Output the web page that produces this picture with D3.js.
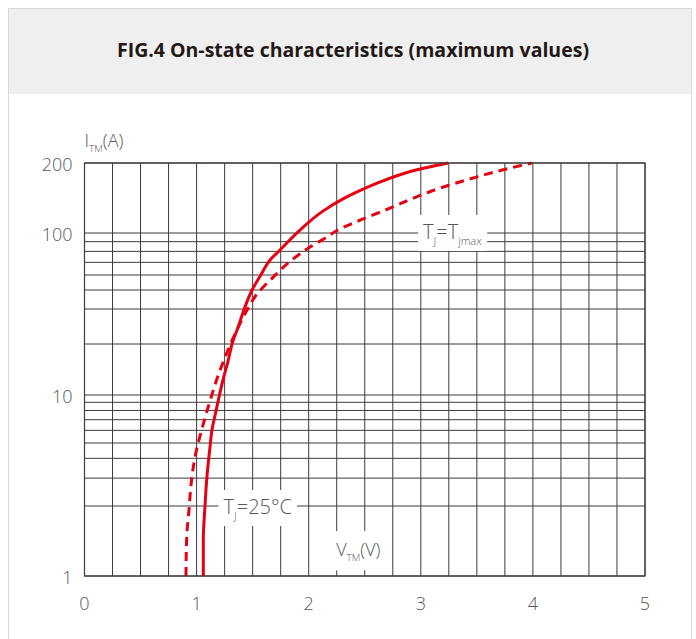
<!DOCTYPE html>
<html>
<head>
<meta charset="utf-8">
<script src="https://cdn.jsdelivr.net/npm/d3@7"></script>
<style>
  body { margin: 0; background: #fff; }
  text { font-family: "Open Sans", "Noto Sans", sans-serif; }
</style>
</head>
<body>
<div id="chart"></div>
<script>
// Chart data
const titleText = "FIG.4 On-state characteristics (maximum values)";

// Tj = 25°C, solid line
const vt25 = [1.06, 1.06, 1.075, 1.09, 1.104, 1.12, 1.137, 1.169, 1.204, 1.235, 1.283, 1.316, 1.372, 1.432, 1.495, 1.581, 1.655, 1.744, 1.922, 2.13, 2.306, 2.431, 2.663, 2.966, 3.245];
const it25 = [1, 1.43, 2, 2.92, 3.74, 4.74, 6.03, 7.71, 10, 13.8, 21.2, 30, 34.6, 41.1, 50, 61.2, 72, 81.3, 103, 124.5, 140.2, 150.3, 167.7, 187.1, 200];

// Tj = Tjmax, dashed line
const vtMax = [0.905, 0.912, 0.935, 0.941, 0.971, 1.006, 1.045, 1.104, 1.137, 1.178, 1.244, 1.302, 1.36, 1.449, 1.53, 1.686, 1.815, 2.012, 2.163, 2.252, 2.427, 2.725, 2.933, 3.171, 3.468, 3.736, 3.99];
const itMax = [1, 1.475, 2, 2.29, 3.54, 4.74, 6.03, 8.44, 10.1, 13.8, 21.2, 30, 33.7, 39.6, 47, 58.7, 69.4, 84.3, 95.2, 102.5, 111.9, 127.9, 141.2, 156, 172.4, 187.1, 200];

// Axis ticks and grid
const xTicks = [0, 1, 2, 3, 4, 5];
const xGrid = d3.range(0, 5.001, 0.25);
const yTicks = [1, 10, 100, 200];
const yGrid = [1, 2, 3, 4, 5, 6, 7, 8, 9, 10, 30, 40, 50, 60, 70, 80, 90, 100, 200];

// SVG configurations
const W = 696, H = 639;
const margin = { top: 163, right: 51, bottom: 63, left: 84.5 };
const width = W - margin.left - margin.right;
const height = H - margin.top - margin.bottom;

const red = "#e60012";
const gridColor = "#3e3a39";
const labelColor = "#595757";

const svg = d3.select("#chart")
  .append("svg")
    .attr("width", W)
    .attr("height", H);

// Outer panel + header
svg.append("rect")
  .attr("x", 8.5).attr("y", 8.5)
  .attr("width", 683).attr("height", H)
  .attr("fill", "#fff")
  .attr("stroke", "#d9d9d9");
svg.append("rect")
  .attr("x", 9).attr("y", 9)
  .attr("width", 682).attr("height", 85)
  .attr("fill", "#efefef");
svg.append("text")
  .attr("x", 353).attr("y", 50)
  .attr("dy", "0.35em")
  .style("text-anchor", "middle")
  .style("font-size", "19.5px")
  .style("font-weight", "bold")
  .style("fill", "#231815")
  .text(titleText);

const g = svg.append("g")
  .attr("transform", `translate(${margin.left},${margin.top})`);

// Scales: the printed grid is not a clean log grid, so the log scale is piecewise
const xScale = d3.scaleLinear().domain([0, 5]).range([0, width]);
const yScale = d3.scaleLog()
  .domain([1, 2, 5, 10, 30, 40, 50, 100, 200])
  .range([413, 343, 280, 232, 181, 146, 127, 70, 0].map(d => d * height / 413));

// Grid
g.append("g").selectAll("line")
  .data(xGrid)
  .join("line")
    .attr("x1", d => xScale(d)).attr("x2", d => xScale(d))
    .attr("y1", 0).attr("y2", height)
    .attr("stroke", gridColor)
    .attr("stroke-width", 1);

g.append("g").selectAll("line")
  .data(yGrid)
  .join("line")
    .attr("x1", 0).attr("x2", width)
    .attr("y1", d => yScale(d)).attr("y2", d => yScale(d))
    .attr("stroke", gridColor)
    .attr("stroke-width", 1);

// Tick labels
g.append("g").selectAll("text")
  .data(xTicks)
  .join("text")
    .attr("x", d => xScale(d))
    .attr("y", height + 28)
    .attr("dy", "0.35em")
    .style("text-anchor", "middle")
    .style("font-size", "18px")
    .style("font-weight", 300)
    .style("fill", labelColor)
    .text(d => d);

g.append("g").selectAll("text")
  .data(yTicks)
  .join("text")
    .attr("x", -12)
    .attr("y", d => yScale(d) + 2)
    .attr("dy", "0.35em")
    .style("text-anchor", "end")
    .style("font-size", "18px")
    .style("font-weight", 300)
    .style("fill", labelColor)
    .text(d => d);

// Text with subscripts and a white patch behind it
function subLabel(x, y, parts, size, pad) {
  const grp = g.append("g");
  const bg = grp.append("rect").attr("fill", "#fff");
  const t = grp.append("text")
    .attr("x", x).attr("y", y)
    .style("font-size", size + "px")
    .style("font-weight", 300)
    .style("fill", labelColor);
  let shifted = false;
  parts.forEach(p => {
    const sub = p[1];
    const dy = sub && !shifted ? size * 0.3 : (!sub && shifted ? -size * 0.3 : 0);
    shifted = sub;
    t.append("tspan")
      .attr("dy", dy)
      .style("font-size", (sub ? size * 0.55 : size) + "px")
      .text(p[0]);
  });
  if (pad) {
    const b = t.node().getBBox();
    bg.attr("x", b.x - pad[0]).attr("y", b.y - pad[1])
      .attr("width", b.width + pad[0] * 2).attr("height", b.height + pad[1] * 2);
  }
  return grp;
}

// Axis titles
subLabel(0, -16, [["I", false], ["TM", true], ["(A)", false]], 18, null);
subLabel(xScale(2.245), height - 20, [["V", false], ["TM", true], ["(V)", false]], 18, [3, 6]);

// Curves
const line = d3.line()
  .x(d => xScale(d[0]))
  .y(d => yScale(d[1]))
  .curve(d3.curveMonotoneY);

g.append("path")
  .datum(d3.zip(vtMax, itMax))
  .attr("fill", "none")
  .attr("stroke", red)
  .attr("stroke-width", 3)
  .attr("stroke-dasharray", "9,6")
  .attr("d", line);

g.append("path")
  .datum(d3.zip(vt25, it25))
  .attr("fill", "none")
  .attr("stroke", red)
  .attr("stroke-width", 3)
  .attr("d", line);

// Curve labels
subLabel(xScale(1.24), yScale(2) + 8, [["T", false], ["J", true], ["=25°C", false]], 20, [5, 3]);
subLabel(xScale(3.02), yScale(100) + 6, [["T", false], ["J", true], ["=T", false], ["jmax", true]], 20, [5, 3]);

// Plot frame
g.append("rect")
  .attr("width", width).attr("height", height)
  .attr("fill", "none")
  .attr("stroke", gridColor)
  .attr("stroke-width", 1.2);
</script>
</body>
</html>
